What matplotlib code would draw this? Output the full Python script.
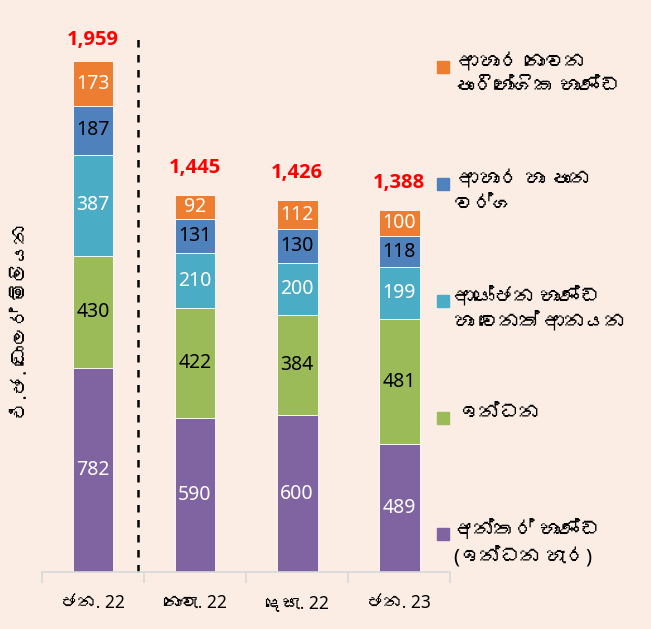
import numpy as np
import matplotlib.pyplot as plt
from matplotlib import font_manager
from matplotlib.ft2font import FT2Font
from matplotlib.patches import Rectangle

# පිටපත සඳහා සිංහල අකුරු ඇති font එකක් සොයමු
def find_sinhala_font():
    for f in font_manager.fontManager.ttflist:
        try:
            if 0x0D85 in FT2Font(f.fname).get_charmap():
                return f.name
        except Exception:
            pass
    return None

sinhala = find_sinhala_font()
families = ['Noto Sans'] + ([sinhala] if sinhala else []) + ['DejaVu Sans']
plt.rcParams['font.family'] = families

# දත්ත
months = ['ජන. 22', 'නොවැ. 22', 'දෙසැ. 22', 'ජන. 23']
intermediate = [782, 590, 600, 489]
fuel = [430, 422, 384, 481]
investment = [387, 210, 200, 199]
food = [187, 131, 130, 118]
nonfood = [173, 92, 112, 100]
totals = [1959, 1445, 1426, 1388]

series = [intermediate, fuel, investment, food, nonfood]
colors = ['#8064A2', '#9BBB59', '#4BACC6', '#4F81BD', '#ED7D31']
text_colors = ['white', 'black', 'white', 'black', 'white']
labels = ['අන්තර් භාණ්ඩ\n(ඉන්ධන හැර)', ' ඉන්ධන', 'ආයෝජන භාණ්ඩ\nහා වෙනත් ආනයන',
          ' ආහාර හා පාන\nවර්ග', ' ආහාර නොවන\nපාරිභෝගික භාණ්ඩ']

bg = '#FBEDE4'
fig = plt.figure(figsize=(6.51, 6.29), dpi=100, facecolor=bg)
ax = fig.add_axes([0.0645, 0.0906, 0.627, 0.8776])
ax.set_facecolor(bg)

x = np.arange(len(months))
bottom = np.zeros(len(months))
for vals, c, tc in zip(series, colors, text_colors):
    vals = np.array(vals)
    ax.bar(x, vals, width=0.4, bottom=bottom, color=c, edgecolor='white', linewidth=0.6)
    for xi, b, v in zip(x, bottom, vals):
        ax.text(xi, b + v / 2, str(v), ha='center', va='center', color=tc,
                fontsize=14)
    bottom += vals

for xi, t in zip(x, totals):
    ax.text(xi, min(t + 105, 2040), f'{t:,}', ha='center', va='center', color='#FF0000',
            fontsize=14.5, fontweight='bold', family=['Open Sans', 'DejaVu Sans'])

ax.plot([0.44, 0.44], [0, 2070], color='black', linestyle=(0, (3, 3)), linewidth=1.8, clip_on=False)

ax.set_xlim(-0.5, 3.5)
ax.set_ylim(0, 2116)
ax.set_xticks(x)
ax.set_xticklabels(months, fontsize=12.5)
ax.set_xticks(np.arange(-0.5, 4, 1), minor=True)
ax.tick_params(axis='x', which='major', length=0, pad=16)
ax.tick_params(axis='x', which='minor', length=8, color='#D9D9D9', width=1.2)
ax.set_yticks([])
for s in ['left', 'right', 'top']:
    ax.spines[s].set_visible(False)
ax.spines['bottom'].set_color('#D9D9D9')
ax.spines['bottom'].set_linewidth(1.2)

fig.text(0.034, 0.49, 'එ.ජ. ඩොලර් මිලියන', rotation=90, ha='center', va='center', fontsize=14)

# legend (අතින්)
W, H = 651, 629
marker_y = [534, 418, 301, 184, 67]
for lab, c, my in zip(labels, colors, marker_y):
    fig.add_artist(Rectangle((437 / W, 1 - (my + 6) / H), 12 / W, 12 / H,
                             transform=fig.transFigure, color=c))
    fig.text(454 / W, 1 - (my - 14) / H, lab, ha='left', va='top', fontsize=14.5,
             linespacing=1.3)

fig.savefig('out.png', dpi=100, facecolor=bg)
